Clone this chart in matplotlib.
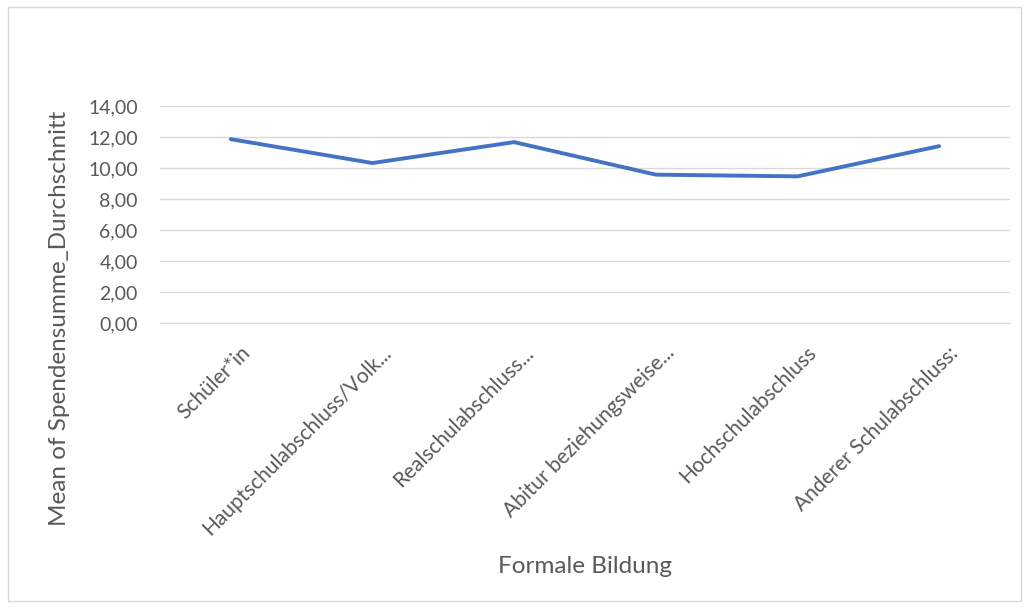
import matplotlib
matplotlib.use("Agg")
import matplotlib.pyplot as plt
from matplotlib.patches import Rectangle
from matplotlib.ticker import FuncFormatter
from matplotlib.transforms import ScaledTranslation

categories = ["Schüler*in", "Hauptschulabschluss/Volk...", "Realschulabschluss...",
              "Abitur beziehungsweise...", "Hochschulabschluss", "Anderer Schulabschluss:"]
values = [11.86, 10.32, 11.67, 9.57, 9.46, 11.41]
yticks = [0, 2, 4, 6, 8, 10, 12, 14]

plt.rcParams['font.family'] = ['Lato', 'DejaVu Sans']
txt = '#595959'

fig = plt.figure(figsize=(10.29, 6.08), dpi=100)
fig.patches.append(Rectangle((0.008, 0.012), 0.984, 0.976, transform=fig.transFigure,
                             fill=False, edgecolor='#D9D9D9', linewidth=1))
ax = fig.add_axes([160/1029, 1-323/608, 850/1029, 217/608])
x = list(range(len(categories)))
ax.plot(x, values, color='#4472C4', linewidth=2.8, solid_capstyle='round', zorder=3)
ax.set_xlim(-0.5, len(categories) - 0.5)
ax.set_ylim(0, 14)
ax.set_yticks(yticks)
ax.yaxis.set_major_formatter(FuncFormatter(lambda v, p: f"{v:.2f}".replace('.', ',')))
ax.grid(axis='y', color='#D9D9D9', linewidth=1)
ax.set_axisbelow(True)
for s in ['top', 'right', 'left']:
    ax.spines[s].set_visible(False)
ax.spines['bottom'].set_color('#D9D9D9')
ax.tick_params(axis='both', length=0, colors=txt)
ax.tick_params(axis='y', pad=16, labelsize=14)
ax.tick_params(axis='x', labelsize=15)
ax.set_xticks(x)
ax.set_xticklabels(categories, rotation=45, ha='right', va='top', rotation_mode='anchor')
for lab in ax.get_xticklabels():
    lab.set_transform(lab.get_transform() + ScaledTranslation(0.09, -0.15, fig.dpi_scale_trans))
fig.text(585/1029, 1-573/608, "Formale Bildung", color=txt, fontsize=17.5,
         ha='center', va='baseline')
fig.text(60/1029, 1-318/608, "Mean of Spendensumme_Durchschnitt", color=txt, fontsize=17.5,
         ha='center', va='center', rotation=90)
fig.savefig("out.png", dpi=100)
